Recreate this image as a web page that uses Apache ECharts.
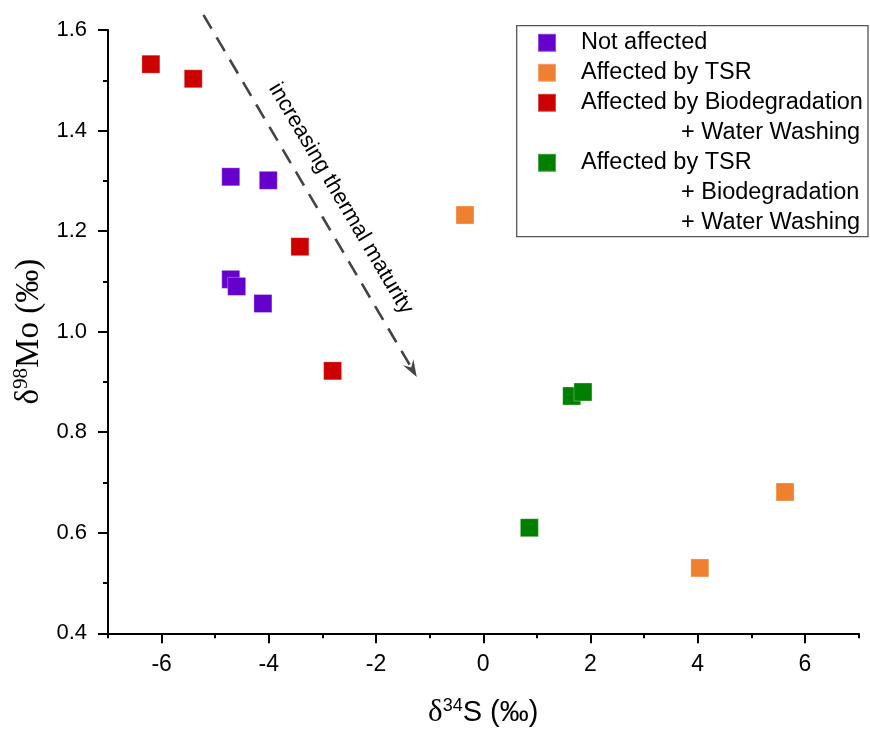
<!DOCTYPE html>
<html>
<head>
<meta charset="utf-8">
<script src="https://cdn.jsdelivr.net/npm/echarts@6/dist/echarts.min.js"></script>
<style>html,body{margin:0;padding:0;background:#fff}#c{width:870px;height:734px}</style>
</head>
<body>
<div id="c"></div>
<script>
// ---- data ----
const xMajorTicks = [-6, -4, -2, 0, 2, 4, 6];
const xMinorTicks = [-7, -5, -3, -1, 1, 3, 5, 7];
const seriesNames = ['Not affected', 'Affected by TSR', 'Affected by Biodegradation + Water Washing', 'Affected by TSR + Biodegradation + Water Washing'];
const notAffected = [[-4.71, 1.308], [-4.01, 1.301], [-4.71, 1.104], [-4.60, 1.090], [-4.11, 1.056]];
const affectedTSR = [[-0.34, 1.232], [4.04, 0.530], [5.63, 0.681]];
const bioWash = [[-6.20, 1.532], [-5.41, 1.503], [-3.42, 1.169], [-2.81, 0.922]];
const tsrBioWash = [[0.86, 0.610], [1.65, 0.872], [1.86, 0.880]];
const arrowStart = [-5.22, 1.630];
const arrowTip = [-1.24, 0.910];
const arrowText = 'increasing thermal maturity';

// ---- style ----
const colors = ['#6600CC', '#EF8030', '#CC0000', '#007F00'];
const SANS = "'Liberation Sans', Arial, sans-serif";
const SERIF = "'Liberation Serif', 'Times New Roman', serif";
const L = 30;
const legendPads = [[L, 0, L, 20], [L, 0, L, 20], [L, 0, 0, 20], [2 * L, 0, 0, 20]];

const chart = echarts.init(document.getElementById('c'), null, {renderer: 'canvas'});

function mkSeries(name, data, color) {
  return {
    type: 'scatter', name: name, data: data, symbol: 'rect', symbolSize: 18,
    itemStyle: {color: color, opacity: 1, borderColor: 'rgba(255,255,255,0.3)', borderWidth: 1},
    emphasis: {disabled: true}, animation: false
  };
}

const option = {
  animation: false,
  backgroundColor: '#fff',
  grid: {left: 108, right: 11.5, top: 30, bottom: 100.7, outerBoundsMode: 'none'},
  xAxis: [{
    type: 'value', min: -7, max: 7,
    name: '{d|δ}{s|34}{m|S (‰)}', nameLocation: 'middle', nameGap: 62,
    nameTextStyle: {
      color: '#000',
      rich: {
        d: {fontFamily: SERIF, fontSize: 31, color: '#000', lineHeight: 36},
        s: {fontFamily: SANS, fontSize: 18, color: '#000', padding: [0, 0, 15, 0]},
        m: {fontFamily: SANS, fontSize: 29, color: '#000', lineHeight: 36}
      }
    },
    splitLine: {show: false},
    axisLine: {show: true, onZero: false, lineStyle: {color: '#000', width: 2}},
    axisTick: {show: true, customValues: xMajorTicks, length: 10, lineStyle: {color: '#000', width: 2}},
    axisLabel: {customValues: xMajorTicks, margin: 20, color: '#000', fontSize: 23, fontFamily: SANS},
    minorTick: {show: false}
  }, {
    type: 'value', min: -7, max: 7, position: 'bottom',
    splitLine: {show: false},
    axisLine: {show: false},
    axisTick: {show: true, customValues: xMinorTicks, length: 5, lineStyle: {color: '#000', width: 2}},
    axisLabel: {show: false}
  }],
  yAxis: {
    type: 'value', min: 0.4, max: 1.6, interval: 0.2,
    name: '{d|δ}{s|98}{m|Mo (‰)}', nameLocation: 'middle', nameRotate: 90, nameGap: 52,
    nameTextStyle: {
      color: '#000',
      rich: {
        d: {fontFamily: SERIF, fontSize: 33, color: '#000', lineHeight: 38},
        s: {fontFamily: SERIF, fontSize: 21, color: '#000', padding: [0, 0, 16, 0]},
        m: {fontFamily: SERIF, fontSize: 33, color: '#000', lineHeight: 38}
      }
    },
    splitLine: {show: false},
    axisLine: {show: true, onZero: false, lineStyle: {color: '#000', width: 2}},
    axisTick: {show: true, length: 10, lineStyle: {color: '#000', width: 2}},
    minorTick: {show: true, splitNumber: 2, length: 5, lineStyle: {color: '#000', width: 2}},
    axisLabel: {margin: 21, color: '#000', fontSize: 22, fontFamily: SANS, formatter: v => v.toFixed(1)}
  },
  legend: {
    orient: 'vertical', left: 537, top: 42.8 - 45, padding: 0,
    itemWidth: 18, itemHeight: 18, itemGap: -2 * L, icon: 'rect',
    selectedMode: false,
    data: seriesNames.map((n, i) => ({name: n, textStyle: {padding: legendPads[i]}})),
    formatter: function (name) {
      return name.split(' + ').map((p, i) => i === 0 ? p : '{i|+ ' + p + '}').join('\n');
    },
    textStyle: {
      color: '#000', fontSize: 23.5, fontFamily: SANS, lineHeight: L,
      rich: {i: {padding: [0, 0, 0, 100], fontSize: 23.5, fontFamily: SANS, color: '#000', lineHeight: L}}
    }
  },
  series: [
    mkSeries(seriesNames[0], notAffected, colors[0]),
    mkSeries(seriesNames[1], affectedTSR, colors[1]),
    mkSeries(seriesNames[2], bioWash, colors[2]),
    mkSeries(seriesNames[3], tsrBioWash, colors[3])
  ]
};
chart.setOption(option);

// legend frame, dashed arrow and its label, placed from the data-space anchors
const p0 = chart.convertToPixel({gridIndex: 0}, arrowStart);
const p1 = chart.convertToPixel({gridIndex: 0}, arrowTip);
const dx = p1[0] - p0[0], dy = p1[1] - p0[1];
const len = Math.sqrt(dx * dx + dy * dy);
const ux = dx / len, uy = dy / len;
const nx = uy, ny = -ux;
const headLen = 17, headHalf = 6, notch = 6, lineStop = 12;
const along = 228, perp = 25;
const tip = p1;
const back = [tip[0] - ux * headLen, tip[1] - uy * headLen];
const notchPt = [tip[0] - ux * (headLen - notch), tip[1] - uy * (headLen - notch)];
chart.setOption({
  graphic: [
    {type: 'rect', silent: true, shape: {x: 516.7, y: 25.7, width: 351.3, height: 211}, style: {fill: 'none', stroke: '#555', lineWidth: 1.3}},
    {type: 'line', silent: true,
     shape: {x1: p0[0], y1: p0[1], x2: tip[0] - ux * lineStop, y2: tip[1] - uy * lineStop},
     style: {stroke: '#444', lineWidth: 2.6, lineDash: [16, 10], lineCap: 'butt'}},
    {type: 'polygon', silent: true,
     shape: {points: [tip, [back[0] + nx * headHalf, back[1] + ny * headHalf], notchPt, [back[0] - nx * headHalf, back[1] - ny * headHalf]]},
     style: {fill: '#444'}},
    {type: 'text', silent: true, x: p0[0] + ux * along + nx * perp, y: p0[1] + uy * along + ny * perp,
     rotation: -Math.atan2(dy, dx),
     style: {text: arrowText, fontSize: 22, fontFamily: SANS, fill: '#000', align: 'center', verticalAlign: 'middle'}}
  ]
});
</script>
</body>
</html>
